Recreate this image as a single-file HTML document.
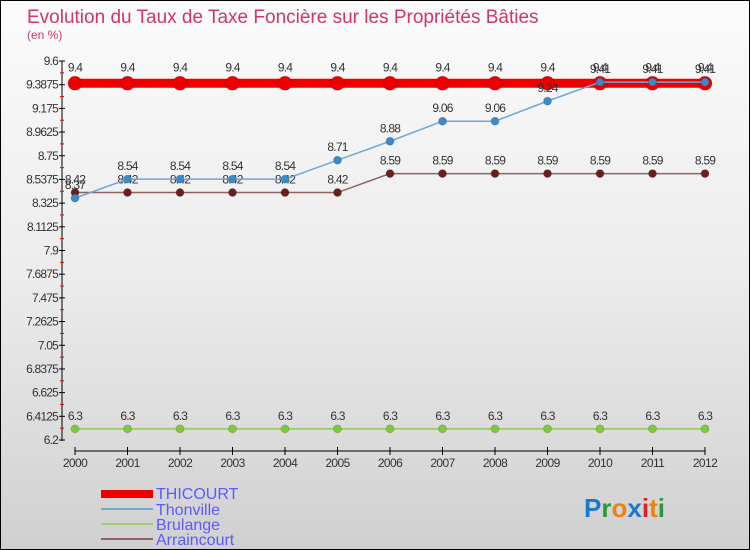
<!DOCTYPE html>
<html><head><meta charset="utf-8">
<style>
html,body{margin:0;padding:0;}
body{width:750px;height:550px;overflow:hidden;font-family:"Liberation Sans",sans-serif;}
#wrap{position:relative;width:748px;height:548px;border:1px solid #000;background:linear-gradient(to bottom,#fbfbfb 0%,#ececec 50%,#d0d0d0 100%);}
svg{position:absolute;left:0;top:0;}
</style></head>
<body>
<div id="wrap">
<svg id="chart" width="748" height="548">
  <text x="26" y="22" font-size="19" fill="#d0346a">Evolution du Taux de Taxe Foncière sur les Propriétés Bâties</text>
  <text x="26" y="38" font-size="12" fill="#d0346a">(en %)</text>
  <g id="axes"></g>
  <g id="series"></g>
  <g id="legend" font-size="16" fill="#5a5aff">
    <rect x="100" y="489" width="52" height="8" fill="#e00"/>
    <text x="155" y="498">THICOURT</text>
    <rect x="100" y="507" width="52" height="2" fill="#79a8cc"/>
    <text x="155" y="514">Thonville</text>
    <rect x="100" y="522" width="52" height="2" fill="#9ad36a"/>
    <text x="155" y="529">Brulange</text>
    <rect x="100" y="537" width="52" height="2" fill="#8c6464"/>
    <text x="155" y="544">Arraincourt</text>
  </g>
  <g id="logo" font-size="26" font-weight="bold">
    <text x="583" y="516"><tspan fill="#1a78d0">Pr</tspan><tspan fill="#2a9a3a">o</tspan><tspan fill="#f08010">o</tspan></text>
  </g>
</svg>
</div>
<script>
const years=[2000,2001,2002,2003,2004,2005,2006,2007,2008,2009,2010,2011,2012];
const yTicks=[6.2,6.4125,6.625,6.8375,7.05,7.2625,7.475,7.6875,7.9,8.1125,8.325,8.5375,8.75,8.9625,9.175,9.3875,9.6];
const thicourt=[9.4,9.4,9.4,9.4,9.4,9.4,9.4,9.4,9.4,9.4,9.4,9.4,9.4];
const thonville=[8.37,8.54,8.54,8.54,8.54,8.71,8.88,9.06,9.06,9.24,9.41,9.41,9.41];
const brulange=[6.3,6.3,6.3,6.3,6.3,6.3,6.3,6.3,6.3,6.3,6.3,6.3,6.3];
const arraincourt=[8.42,8.42,8.42,8.42,8.42,8.42,8.59,8.59,8.59,8.59,8.59,8.59,8.59];

const NS="http://www.w3.org/2000/svg";
const X0=74,XS=52.5,YT=60,YB=439,VMIN=6.2,VMAX=9.6;
const xs=i=>X0+i*XS;
const ys=v=>YB-(v-VMIN)/(VMAX-VMIN)*(YB-YT);
function mk(tag,attrs,parent){const e=document.createElementNS(NS,tag);for(const k in attrs)e.setAttribute(k,attrs[k]);parent.appendChild(e);return e;}
const axes=document.getElementById('axes');
const ser=document.getElementById('series');

// y axis
let ya=mk('line',{x1:61,y1:YT,x2:61,y2:YB+1,stroke:'#000','stroke-width':1},axes);


yTicks.forEach((t,i)=>{
  const y=ys(t);
  mk('line',{x1:58,y1:y,x2:64,y2:y,stroke:'#000'},axes);
  const tx=mk('text',{x:57,y:y+4,'font-size':12,fill:'#333','text-anchor':'end','letter-spacing':'-0.8'},axes);
  tx.textContent=String(t);
  
  
  if(i<yTicks.length-1){const ym=ys((t+yTicks[i+1])/2);mk('line',{x1:59,y1:ym,x2:63,y2:ym,stroke:'#e00'},axes);}
});
// x axis
let xa=mk('line',{x1:X0,y1:450,x2:xs(years.length-1),y2:450,stroke:'#000'},axes);


years.forEach((yr,i)=>{
  const x=xs(i);
  mk('line',{x1:x,y1:446,x2:x,y2:454,stroke:'#000'},axes);
  const tx=mk('text',{x:x,y:466,'font-size':12,fill:'#333','text-anchor':'middle','letter-spacing':'-0.6'},axes);
  tx.textContent=yr;
  
  
});

function drawSeries(vals,name,color,lw,r,dot,labelDy){
  const g=mk('g',{},ser);
  
  
  const pts=vals.map((v,i)=>xs(i)+','+ys(v)).join(' ');
  mk('polyline',{points:pts,fill:'none',stroke:color,'stroke-width':lw},g);
  vals.forEach((v,i)=>{
    const c=mk('circle',{cx:xs(i),cy:ys(v),r:r,fill:dot,stroke:'rgba(0,0,0,0.15)'},g);
    
    
    const t=mk('text',{x:xs(i),y:ys(v)+labelDy,'font-size':12,fill:'#333','text-anchor':'middle','letter-spacing':'-0.8'},g);
    t.textContent=String(v);
    
    
  });
}
drawSeries(thicourt,'thicourt','#e00',9,7,'#e00',-12);
drawSeries(brulange,'brulange','#9ad36a',2,4,'#7acc3a',-9);
drawSeries(arraincourt,'arraincourt','#8c6464',1.5,4,'#6a1e1e',-9);
drawSeries(thonville,'thonville','#6fa6d6',1.5,4,'#3a8acc',-9);

// logo
const logo=document.getElementById('logo');
logo.innerHTML='';
const lt=mk('text',{x:583,y:516,'font-size':26,'font-weight':'bold'},logo);
lt.innerHTML='<tspan fill="#1a78d0">P</tspan><tspan fill="#2a9a3a">r</tspan><tspan fill="#f08010">o</tspan><tspan fill="#1a78d0">x</tspan><tspan fill="#e02020">i</tspan><tspan fill="#f08010">t</tspan><tspan fill="#2a9a3a">i</tspan>';
</script>
</body></html>
